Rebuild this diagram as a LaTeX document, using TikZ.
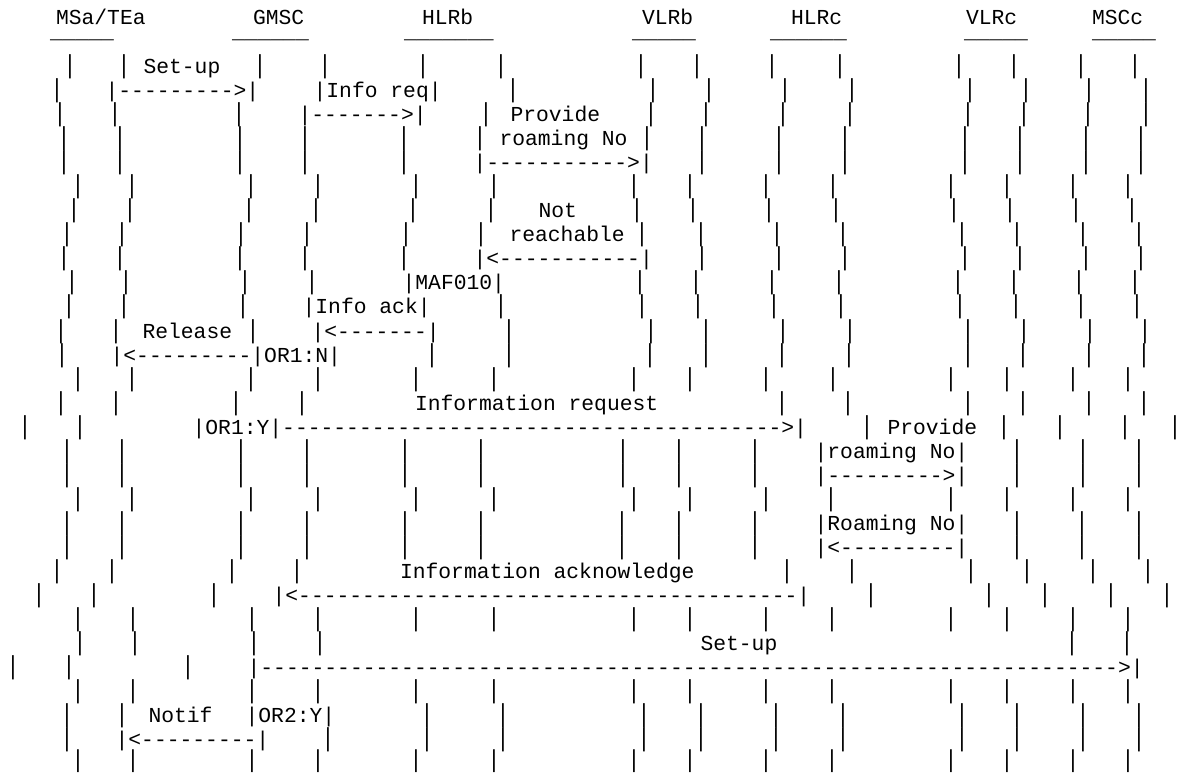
\documentclass[tikz,border=0pt]{standalone}
\usepackage{fontspec}
\newfontfamily\cmono{Liberation Mono}
\ExplSyntaxOn
\cs_new:Npn \dashes #1 {\prg_replicate:nn{#1}{-}}
\ExplSyntaxOff
\tikzset{
  mono/.style={anchor=base west, inner sep=0pt, outer sep=0pt,
    font=\cmono\fontsize{16pt}{16pt}\selectfont, text=black},
  barglyph/.style={mono, anchor=base},
  head/.style={mono, text depth=0pt},
  uline/.style={mono, text height=0pt},
}
% #1 row index, #2 list of bar centres (px)
\newcommand\rowbars[2]{\foreach \xx [count=\ii] in {#2} {\node[barglyph] (b#1-\ii) at (\xx,{73.5+24.05*#1}) {\makebox[0pt]{\scalebox{1}[1.22]{|}}};}}
% last row, lifted slightly so that it ends at the lower edge
\newcommand\lastbars[2]{\foreach \xx [count=\ii] in {#2} {\node[barglyph] (b#1-\ii) at (\xx,767.5) {\makebox[0pt]{\scalebox{1}[1.15]{|}}};}}
% #1 name, #2 row, #3 cell left (px), #4 text
\newcommand\rowtxt[4]{\node[mono] (#1) at (#3,{73.5+24.05*#2}) {#4};}
\begin{document}
\begin{tikzpicture}[x=0.75pt,y=-0.75pt]
\fill[white] (0,0) rectangle (1181,773);
\useasboundingbox (0,0) rectangle (1181,773);
% header
\node[head] (h1) at (56,25) {MSa/TEa};
\node[head] (h2) at (253,25) {GMSC};
\node[head] (h3) at (422,25) {HLRb};
\node[head] (h4) at (642,25) {VLRb};
\node[head] (h5) at (791,25) {HLRc};
\node[head] (h6) at (966,25) {VLRc};
\node[head] (h7) at (1092,25) {MSCc};
\node[uline] (u1) at (50,39) {\_\_\_\_\_};
\node[uline] (u2) at (232,39) {\_\_\_\_\_\_};
\node[uline] (u3) at (404,39) {\_\_\_\_\_\_\_};
\node[uline] (u4) at (632,39) {\_\_\_\_\_};
\node[uline] (u5) at (770,39) {\_\_\_\_\_\_};
\node[uline] (u6) at (964,39) {\_\_\_\_\_};
\node[uline] (u7) at (1092,39) {\_\_\_\_\_};
% rows
\rowbars{0}{70,124,260,325,423,501,641,697,772,840,959,1014,1081,1135}
\rowtxt{t0}{0}{143.5}{Set-up}
\rowbars{1}{57,513,653,709,785,852,970,1026,1089,1146}
\rowtxt{a1}{1}{105.6}{|\dashes{9}>|}
\rowtxt{t1}{1}{313.6}{|Info req|}
\rowbars{2}{60,115,239,486,651,706,783,850,968,1024,1088,1146}
\rowtxt{a2}{2}{298.6}{|\dashes{7}>|}
\rowtxt{t2}{2}{510.5}{Provide}
\rowbars{3}{64,120,240,305,404,480,647,702,779,845,965,1020,1086,1141}
\rowtxt{t3}{3}{499.5}{roaming No}
\rowbars{4}{64,120,240,305,404,702,779,845,965,1020,1086,1141}
\rowtxt{a4}{4}{473.6}{|\dashes{11}>|}
\rowbars{5}{78,132,251,318,416,494,634,690,766,833,951,1007,1073,1128}
\rowbars{6}{74,130,249,316,413,491,637,693,769,836,954,1010,1076,1132}
\rowtxt{t6}{6}{538.5}{Not}
\rowbars{7}{67,122,241,307,406,481,642,701,777,843,962,1017,1083,1139}
\rowtxt{t7}{7}{509.5}{reachable}
\rowbars{8}{64,120,240,305,404,702,779,845,965,1020,1086,1141}
\rowtxt{a8}{8}{473.6}{|<\dashes{11}|}
\rowbars{9}{72,126,245,312,640,696,772,839,958,1014,1079,1135}
\rowtxt{t9}{9}{402.6}{|MAF010|}
\rowbars{10}{69,124,243,501,642,698,774,841,960,1016,1081,1137}
\rowtxt{t10}{10}{302.6}{|Info ack|}
\rowbars{11}{61,116,253,509,651,706,783,850,968,1024,1090,1145}
\rowtxt{t11}{11}{142.5}{Release}
\rowtxt{a11}{11}{311.6}{|<\dashes{7}|}
\rowbars{12}{62,432,509,650,706,782,849,968,1023,1089,1144}
\rowtxt{a12}{12}{110.6}{|<\dashes{9}|OR1:N|}
\rowbars{13}{78,132,251,318,416,494,634,690,766,833,951,1007,1073,1128}
\rowbars{14}{61,116,236,302,782,848,968,1023,1089,1144}
\rowtxt{t14}{14}{415}{Information request}
\rowbars{15}{25,80,867,1004,1060,1125,1175}
\rowtxt{a15}{15}{192.6}{|OR1:Y|\dashes{39}>|}
\rowtxt{t15}{15}{887.5}{Provide}
\rowbars{16}{67,122,241,307,405,481,623,679,755,1017,1083,1139}
\rowtxt{t16}{16}{814.6}{|roaming No|}
\rowbars{17}{67,122,241,307,405,481,623,679,755,1017,1083,1139}
\rowtxt{a17}{17}{814.6}{|\dashes{9}>|}
\rowbars{18}{78,132,251,318,416,494,634,690,766,831,951,1007,1073,1128}
\rowbars{19}{67,122,241,307,405,481,622,679,755,1017,1082,1139}
\rowtxt{t19}{19}{814.6}{|Roaming No|}
\rowbars{20}{67,122,241,307,405,481,622,679,755,1017,1082,1139}
\rowtxt{a20}{20}{814.6}{|<\dashes{9}|}
\rowbars{21}{57,112,232,297,787,852,971,1027,1093,1148}
\rowtxt{t21}{21}{400}{Information acknowledge}
\rowbars{22}{39,94,214,871,989,1045,1111,1167}
\rowtxt{a22}{22}{272.6}{|<\dashes{39}|}
\rowbars{23}{78,133,252,318,416,494,634,690,766,832,951,1007,1073,1128}
\rowbars{24}{80,135,254,320,1072,1127}
\rowtxt{t24}{24}{700.5}{Set-up}
\rowbars{25}{13,69,188}
\rowtxt{a25}{25}{247.6}{|\dashes{67}>|}
\rowbars{26}{78,133,252,318,416,494,634,690,766,832,951,1007,1073,1128}
\rowbars{27}{67,122,427,503,644,701,776,843,962,1017,1083,1139}
\rowtxt{t27}{27}{148.5}{Notif}
\rowtxt{t27b}{27}{245.6}{|OR2:Y|}
\rowbars{28}{67,328,427,503,644,701,776,843,962,1017,1083,1139}
\rowtxt{a28}{28}{115.6}{|<\dashes{9}|}
\lastbars{29}{78,133,252,318,416,494,634,690,766,832,951,1007,1073,1128}
\end{tikzpicture}
\end{document}
